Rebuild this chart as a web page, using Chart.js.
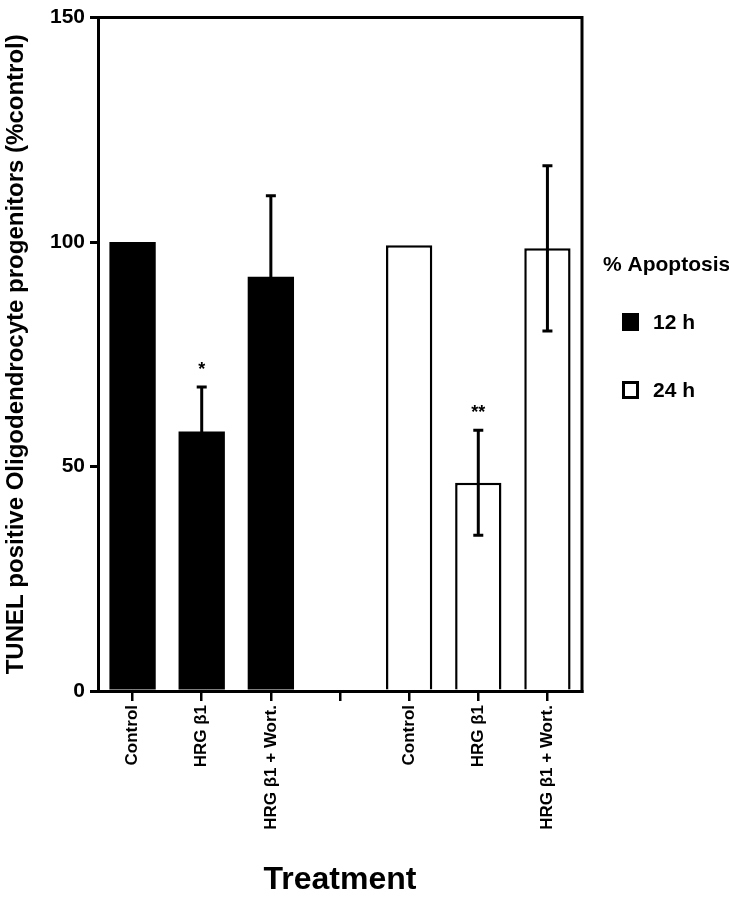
<!DOCTYPE html>
<html>
<head>
<meta charset="utf-8">
<title>TUNEL positive Oligodendrocyte progenitors</title>
<script src="https://cdn.jsdelivr.net/npm/chart.js@4.4.1/dist/chart.umd.min.js"></script>
<style>
    html, body { margin: 0; padding: 0; background: #fff; }
    #wrap { position: relative; width: 729px; height: 899px; }
</style>
</head>
<body>
<div id="wrap"><canvas id="tunel-chart"></canvas></div>
<script>
// Values
const categories = ['Control', 'HRG β1', 'HRG β1 + Wort.', '', 'Control', 'HRG β1', 'HRG β1 + Wort.'];
const apoptosis12h = [100, 57.8, 92.3, null, null, null, null];
const apoptosis24h = [null, null, null, null, 99.3, 46.4, 98.6];
const error12h = [0, 9.9, 18.0, null, null, null, null];
const error24h = [null, null, null, null, 0, 11.7, 18.4];
const significance = ['', '*', '', '', '', '**', ''];
const yTicks = [0, 50, 100, 150];
const legendTitle = '% Apoptosis';

const FONT = "'Liberation Sans', Arial, Helvetica, sans-serif";
Chart.defaults.font.family = FONT;
Chart.defaults.color = '#000';

// Error bars + asterisks
const errorBars = {
    id: 'errorBars',
    afterDatasetsDraw(chart) {
        const { ctx } = chart;
        const y = chart.scales.y;
        ctx.save();
        ctx.strokeStyle = '#000';
        ctx.lineWidth = 3;
        chart.data.datasets.forEach((ds, d) => {
            const meta = chart.getDatasetMeta(d);
            meta.data.forEach((bar, i) => {
                const v = ds.data[i];
                const e = ds.errors[i];
                if (v == null) return;
                let top = bar.y;
                if (e) {
                    top = y.getPixelForValue(v + e);
                    const bot = y.getPixelForValue(v - e);
                    ctx.beginPath();
                    ctx.moveTo(bar.x, bot);
                    ctx.lineTo(bar.x, top);
                    ctx.moveTo(bar.x - 5, top);
                    ctx.lineTo(bar.x + 5, top);
                    ctx.moveTo(bar.x - 5, bot);
                    ctx.lineTo(bar.x + 5, bot);
                    ctx.stroke();
                }
                if (significance[i]) {
                    ctx.fillStyle = '#000';
                    ctx.font = 'bold 18px ' + FONT;
                    ctx.textAlign = 'center';
                    ctx.textBaseline = 'bottom';
                    ctx.fillText(significance[i], bar.x, top - 8);
                }
            });
        });
        ctx.restore();
    }
};

// Top and right edges of the frame
const frame = {
    id: 'frame',
    afterDraw(chart) {
        const { ctx, chartArea: a } = chart;
        ctx.save();
        ctx.strokeStyle = '#000';
        ctx.lineWidth = 3;
        ctx.beginPath();
        ctx.moveTo(a.left, a.top);
        ctx.lineTo(a.right, a.top);
        ctx.lineTo(a.right, a.bottom + 2);
        ctx.stroke();
        ctx.restore();
    }
};

// Legend on the right
const sideLegend = {
    id: 'sideLegend',
    afterDraw(chart) {
        const { ctx, chartArea: a } = chart;
        const x = a.right + 21;
        ctx.save();
        ctx.fillStyle = '#000';
        ctx.textBaseline = 'middle';
        ctx.textAlign = 'left';
        ctx.font = 'bold 21px ' + FONT;
        ctx.fillText(legendTitle, x, 265);
        chart.data.datasets.forEach((ds, d) => {
            const cy = 322 + d * 68;
            ctx.fillStyle = ds.backgroundColor;
            ctx.fillRect(x + 19, cy - 9, 17, 18);
            ctx.strokeStyle = '#000';
            ctx.lineWidth = 3;
            ctx.strokeRect(x + 20.5, cy - 7.5, 14, 15);
            ctx.fillStyle = '#000';
            ctx.font = 'bold 21px ' + FONT;
            ctx.fillText(ds.label, x + 50, cy + 1);
        });
        ctx.restore();
    }
};

const ctx = document.getElementById('tunel-chart').getContext('2d');
new Chart(ctx, {
    type: 'bar',
    data: {
        labels: categories,
        datasets: [
            {
                label: '12 h',
                data: apoptosis12h,
                errors: error12h,
                backgroundColor: '#000',
                borderColor: '#000',
                borderWidth: 0
            },
            {
                label: '24 h',
                data: apoptosis24h,
                errors: error24h,
                backgroundColor: '#fff',
                borderColor: '#000',
                borderWidth: 2.5
            }
        ]
    },
    options: {
        responsive: true,
        maintainAspectRatio: false,
        animation: false,
        layout: { padding: { top: 11, right: 147, left: 0, bottom: 0 } },
        datasets: {
            bar: { grouped: false, barPercentage: 0.67, categoryPercentage: 1 }
        },
        scales: {
            x: {
                afterFit: (scale) => { scale.height = 208; },
                grid: {
                    offset: false,
                    drawOnChartArea: false,
                    color: '#000',
                    lineWidth: 2.5,
                    tickLength: 10
                },
                border: { color: '#000', width: 3 },
                ticks: {
                    minRotation: 90,
                    maxRotation: 90,
                    padding: 4,
                    font: { size: 17, weight: 'bold' }
                },
                title: {
                    display: true,
                    text: 'Treatment',
                    font: { size: 32, weight: 'bold' },
                    padding: { top: 0, bottom: 0 }
                }
            },
            y: {
                min: 0,
                max: 150,
                afterFit: (scale) => { scale.width = 98; },
                afterBuildTicks: (scale) => { scale.ticks = yTicks.map(v => ({ value: v })); },
                grid: {
                    drawOnChartArea: false,
                    color: '#000',
                    lineWidth: 3,
                    tickLength: 8
                },
                border: { color: '#000', width: 3 },
                ticks: {
                    padding: 5,
                    font: { size: 21, weight: 'bold' }
                },
                title: {
                    display: true,
                    text: 'TUNEL positive Oligodendrocyte progenitors (%control)',
                    font: { size: 24, weight: 'bold' },
                    padding: { top: 2, bottom: 0 }
                }
            }
        },
        plugins: {
            legend: { display: false },
            tooltip: { enabled: false }
        }
    },
    plugins: [errorBars, frame, sideLegend]
});
</script>
</body>
</html>
